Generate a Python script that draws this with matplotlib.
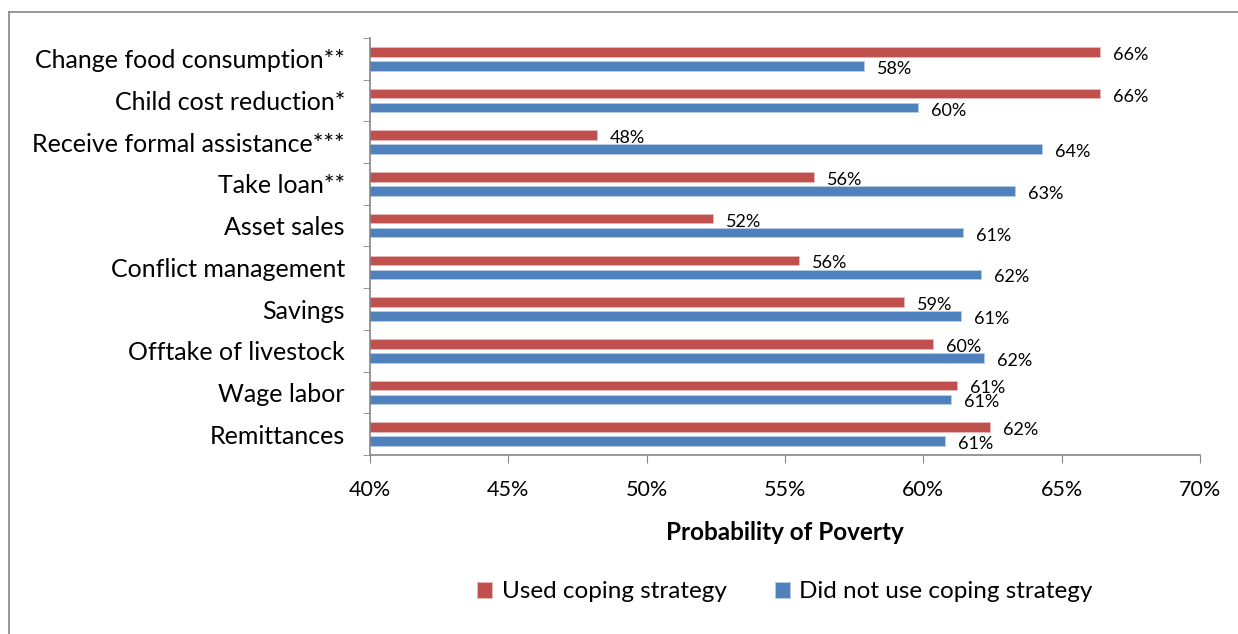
import matplotlib
matplotlib.use("Agg")
from matplotlib import pyplot as plt
from matplotlib.lines import Line2D
import numpy as np

plt.rcParams['font.family'] = ['Lato', 'DejaVu Sans']

strategies = ["Change food consumption**", "Child cost reduction*",
              "Receive formal assistance***", "Take loan**", "Asset sales",
              "Conflict management", "Savings", "Offtake of livestock",
              "Wage labor", "Remittances"]
used = [66.4, 66.4, 48.2, 56.05, 52.4, 55.5, 59.3, 60.35, 61.2, 62.4]
not_used = [57.85, 59.8, 64.3, 63.3, 61.45, 62.1, 61.35, 62.2, 61.0, 60.8]
x_ticks = [40, 45, 50, 55, 60, 65, 70]

red = '#C0504D'
blue = '#4F81BD'

fig = plt.figure(figsize=(12.38, 6.34), dpi=100)
ax = fig.add_axes([370 / 1238, 1 - 455 / 634, 830 / 1238, 417 / 634])

idx = np.arange(len(strategies))
h = 0.23
off = 0.168
ax.barh(idx - off, used, height=h, left=0, color=red, edgecolor='#e9b8b6',
        linewidth=0.6, label="Used coping strategy")
ax.barh(idx + off, not_used, height=h, left=0, color=blue, edgecolor='#b9cde6',
        linewidth=0.6, label="Did not use coping strategy")

for i, (u, n) in enumerate(zip(used, not_used)):
    ax.annotate(f"{u:.0f}%", (u, i - off), xytext=(13, -3),
                textcoords='offset pixels', ha='left', va='center', fontsize=13)
    ax.annotate(f"{n:.0f}%", (n, i + off), xytext=(13, -3),
                textcoords='offset pixels', ha='left', va='center', fontsize=13)

ax.set_xlim(40, 70)
ax.set_ylim(len(strategies) - 0.5, -0.5)
ax.set_xticks(x_ticks)
ax.set_xticklabels([f"{t}%" for t in x_ticks], fontsize=15.5)
ax.set_yticks(idx)
ax.set_yticklabels(strategies, fontsize=18)
ax.set_yticks(np.arange(len(strategies) + 1) - 0.5, minor=True)
ax.tick_params(axis='y', which='major', length=0, pad=18)
ax.tick_params(axis='y', which='minor', length=5, color='#868686', direction='out')
ax.tick_params(axis='x', length=6, color='#868686', direction='out', pad=12)

for s in ['top', 'right']:
    ax.spines[s].set_visible(False)
for s in ['left', 'bottom']:
    ax.spines[s].set_color('#868686')
    ax.spines[s].set_linewidth(1.2)

ax.set_xlabel("Probability of Poverty", fontsize=17.5, fontweight='bold', labelpad=15)

ax.legend(loc='center', bbox_to_anchor=(785 / 1238, 1 - 592 / 634),
          bbox_transform=fig.transFigure, ncol=2, frameon=False, fontsize=17.5,
          handlelength=0.6, handleheight=0.6, handletextpad=0.4, columnspacing=2.0)

# outer chart frame (cut off at right and bottom)
fx = 9 / 1238
fy = 1 - 12 / 634
fig.add_artist(Line2D([fx, fx], [0, fy], transform=fig.transFigure,
                      color='#868686', linewidth=1.2))
fig.add_artist(Line2D([fx, 1], [fy, fy], transform=fig.transFigure,
                      color='#868686', linewidth=1.2))

fig.savefig("out.png", dpi=100)
